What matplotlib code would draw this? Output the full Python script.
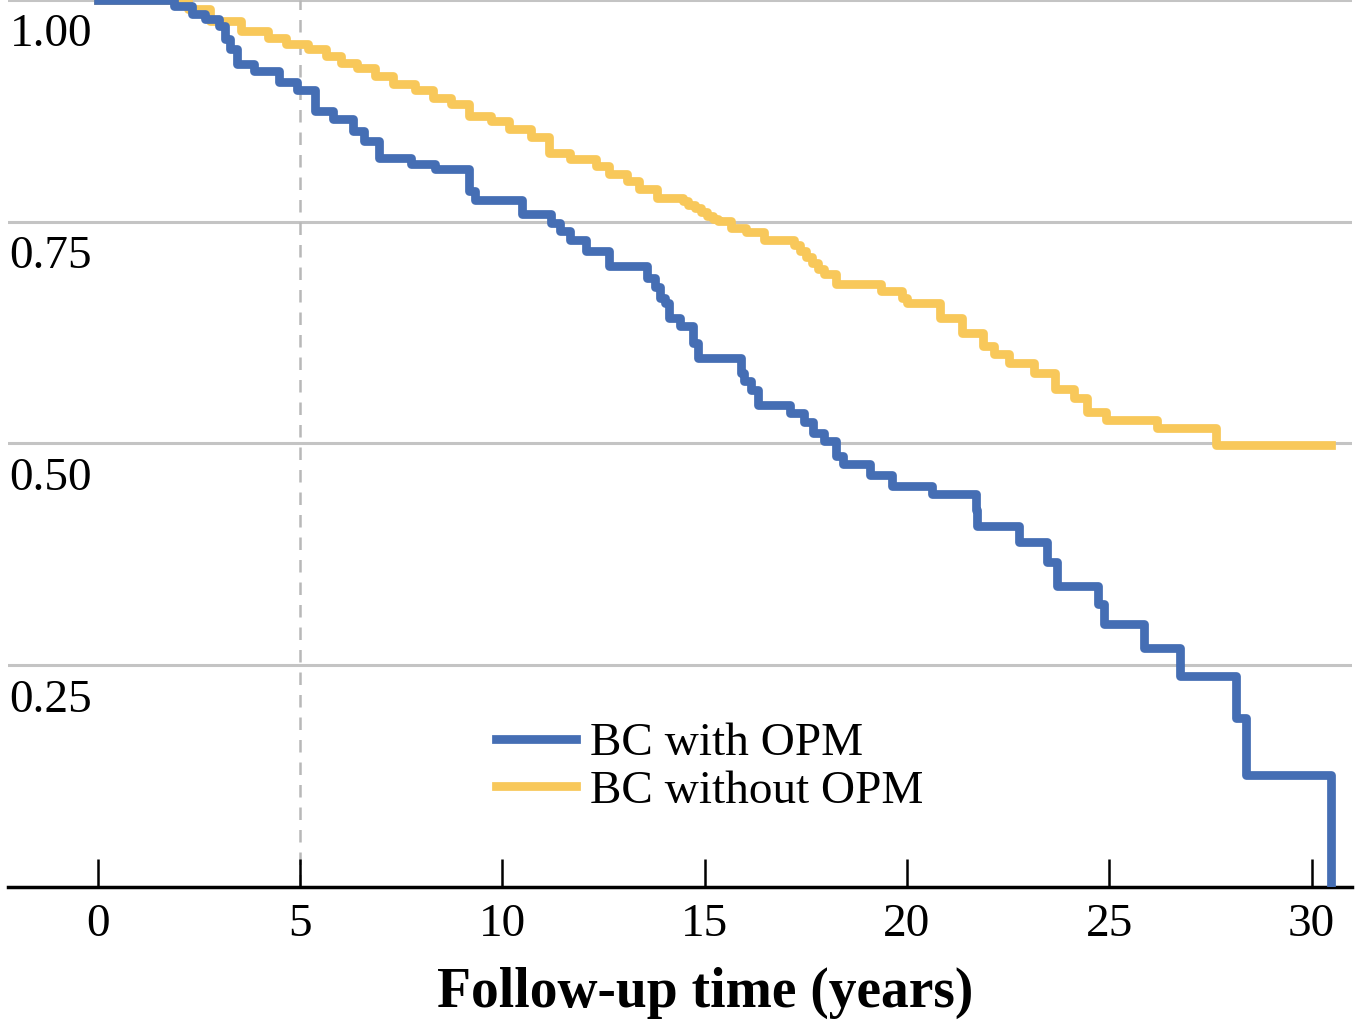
import numpy as np
import matplotlib
matplotlib.use('Agg')
import matplotlib.pyplot as plt

plt.rcParams['font.family'] = ['Liberation Serif', 'DejaVu Serif']

# Kaplan-Meier steps (years, survival after the step)
t_opm = [0, 1.88, 2.32, 2.64, 2.99, 3.14, 3.26, 3.43, 3.85, 4.47, 4.92, 5.36, 5.81,
         6.30, 6.57, 6.94, 7.73, 8.33, 9.17, 9.32, 10.48, 11.19, 11.42, 11.66, 12.06,
         12.63, 13.57, 13.76, 13.89, 14.01, 14.13, 14.38, 14.70, 14.83, 15.89, 15.96,
         16.14, 16.33, 17.12, 17.45, 17.67, 17.96, 18.24, 18.43, 19.08, 19.64, 20.61,
         21.70, 21.74, 22.76, 23.47, 23.70, 24.73, 24.86, 25.85, 26.76, 28.14, 28.37,
         30.49]
s_opm = [1.0, 0.993, 0.984, 0.979, 0.971, 0.956, 0.945, 0.928, 0.920, 0.907, 0.898,
         0.875, 0.866, 0.852, 0.841, 0.822, 0.815, 0.810, 0.785, 0.774, 0.759, 0.749,
         0.740, 0.729, 0.717, 0.700, 0.687, 0.676, 0.664, 0.658, 0.642, 0.633, 0.613,
         0.596, 0.580, 0.571, 0.560, 0.543, 0.534, 0.524, 0.512, 0.503, 0.486, 0.477,
         0.464, 0.452, 0.443, 0.425, 0.407, 0.389, 0.366, 0.339, 0.319, 0.296, 0.270,
         0.238, 0.190, 0.126, 0.0]

t_no = [0, 2.22, 2.77, 3.53, 4.20, 4.65, 5.19, 5.63, 6.00, 6.40, 6.84, 7.29, 7.83,
        8.28, 8.72, 9.17, 9.71, 10.16, 10.70, 11.14, 11.66, 12.31, 12.63, 13.07, 13.37,
        13.81, 14.46, 14.60, 14.75, 14.90, 15.05, 15.20, 15.32, 15.64, 16.01, 16.46,
        17.22, 17.35, 17.50, 17.65, 17.80, 17.96, 18.24, 19.37, 19.87, 19.99, 20.81,
        21.37, 21.89, 22.14, 22.51, 23.15, 23.65, 24.14, 24.46, 24.91, 26.17, 27.63,
        30.47]
s_no = [1.0, 0.990, 0.976, 0.965, 0.957, 0.950, 0.945, 0.937, 0.929, 0.923, 0.914,
        0.905, 0.898, 0.890, 0.883, 0.869, 0.864, 0.855, 0.845, 0.828, 0.821, 0.813,
        0.804, 0.796, 0.787, 0.777, 0.773, 0.769, 0.765, 0.761, 0.757, 0.753, 0.751,
        0.743, 0.738, 0.729, 0.724, 0.717, 0.710, 0.703, 0.697, 0.691, 0.680, 0.672,
        0.664, 0.658, 0.641, 0.625, 0.610, 0.601, 0.591, 0.580, 0.562, 0.551, 0.535,
        0.526, 0.517, 0.498, 0.498]

x_ticks = [0, 5, 10, 15, 20, 25, 30]
y_ticks = [0.25, 0.50, 0.75, 1.00]
y_labels = ['0.25', '0.50', '0.75', '1.00']

blue = '#456eb4'
yellow = '#f8c85a'

fig = plt.figure(figsize=(13.59, 10.21), dpi=100)
ax = fig.add_axes([8 / 1359, 134 / 1021, 1344 / 1359, 887 / 1021])

for y in y_ticks:
    ax.axhline(y, color='#c4c4c4', lw=2.2, zorder=1)
ax.axvline(5, color='#b8b8b8', lw=1.8, ls=(0, (5, 4)), zorder=1)

ax.step(t_no, s_no, where='post', color=yellow, lw=6.3, label='BC without OPM', zorder=3)
ax.step(t_opm, s_opm, where='post', color=blue, lw=6.3, label='BC with OPM', zorder=4)

ax.set_xlim(-2.22, 31.0)
ax.set_ylim(0, 1.0)

for sp in ['top', 'right', 'left']:
    ax.spines[sp].set_visible(False)
ax.spines['bottom'].set_linewidth(2.5)
ax.spines['bottom'].set_zorder(2)

ax.set_xticks(x_ticks)
ax.tick_params(axis='x', direction='in', length=20, width=1.8, pad=12, labelsize=34)
ax.set_yticks([])

for v, lbl in zip(y_ticks, y_labels):
    ax.annotate(lbl, xy=(0, v), xycoords=('axes fraction', 'data'), xytext=(1, -10),
                textcoords='offset points', ha='left', va='top', fontsize=34)

ax.set_xlabel('Follow-up time (years)', fontsize=40, fontweight='bold')
ax.xaxis.set_label_coords((705 - 8) / 1344, -0.09)

h, l = ax.get_legend_handles_labels()
ax.legend(h[::-1], l[::-1], loc='upper left', bbox_to_anchor=(0.363, 0.186), frameon=False,
          fontsize=34, handlelength=1.7, handletextpad=0.3, labelspacing=0.1,
          borderpad=0, borderaxespad=0)

fig.savefig('out.png', dpi=100)
